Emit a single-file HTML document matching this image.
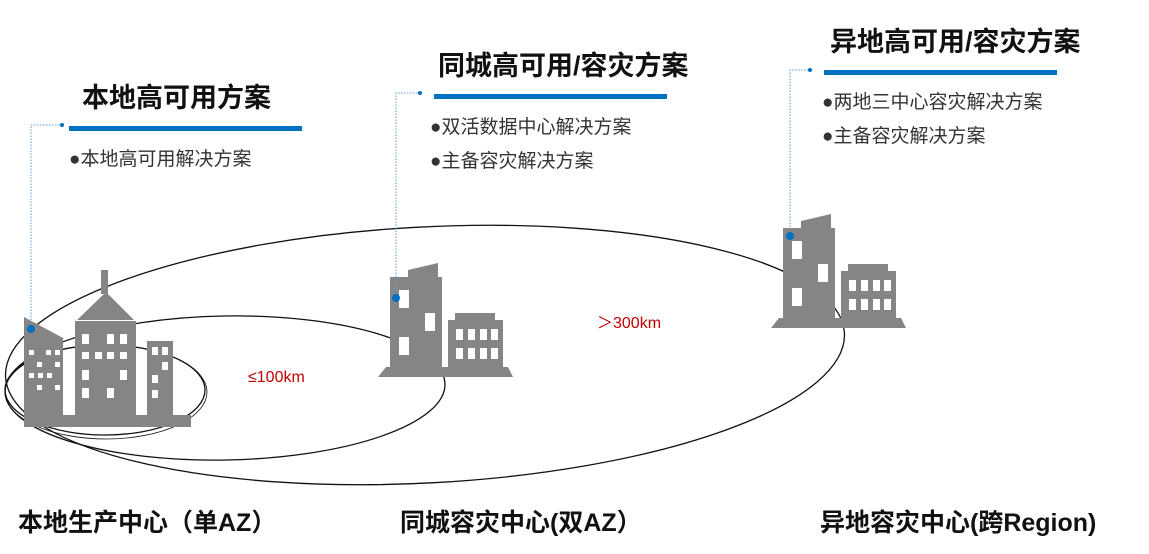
<!DOCTYPE html>
<html><head><meta charset="utf-8"><style>
body{margin:0;width:1149px;height:554px;background:#fff;overflow:hidden;font-family:"Liberation Sans","Noto Sans CJK SC",sans-serif;}
svg{position:absolute;left:0;top:0}
</style></head><body>
<svg width="1149" height="554" viewBox="0 0 1149 554" font-family="Liberation Sans, Noto Sans CJK SC, sans-serif">
<defs>
<g id="b2">
<polygon points="390,277 408,277 408,270 438,263 438,277 442,277 442,367 390,367" fill="#858585"/>
<polygon points="448,320 455,320 455,313 495,313 495,320 503,320 503,367 448,367" fill="#858585"/>
<polygon points="386,367 508,367 513,377 378,377" fill="#858585"/>
<rect x="399" y="290" width="10" height="18" fill="#fff"/>
<rect x="425" y="313" width="10" height="18" fill="#fff"/>
<rect x="399" y="337" width="10" height="18" fill="#fff"/>
<g fill="#fff">
<rect x="456" y="329" width="7" height="11"/><rect x="468" y="329" width="7" height="11"/><rect x="480" y="329" width="7" height="11"/><rect x="491" y="329" width="7" height="11"/>
<rect x="456" y="348" width="7" height="11"/><rect x="468" y="348" width="7" height="11"/><rect x="480" y="348" width="7" height="11"/><rect x="491" y="348" width="7" height="11"/>
</g>
</g>
</defs>
<g fill="none" stroke="#111" stroke-width="1.3">
<ellipse cx="425" cy="355" rx="420" ry="128" transform="rotate(-3 425 355)"/>
<ellipse cx="225" cy="388" rx="220" ry="72" transform="rotate(-1 225 388)"/>
<ellipse cx="105" cy="390" rx="100" ry="45"/>
<ellipse cx="106" cy="392" rx="101" ry="47" stroke-width="0.8"/>
</g>
<polygon points="24,317 63,338 63,415 24,415" fill="#858585"/>
<rect x="75" y="321" width="61" height="94" fill="#858585"/>
<polygon points="77,320 106,292 134,320" fill="#858585"/>
<rect x="101" y="270" width="7" height="24" fill="#858585"/>
<rect x="147" y="341" width="26" height="74" fill="#858585"/>
<rect x="24" y="415" width="167" height="12" fill="#858585"/>
<g fill="#fff">
<rect x="29" y="350" width="5" height="5"/><rect x="46" y="350" width="5" height="5"/><rect x="55" y="350" width="5" height="5"/>
<rect x="37" y="362" width="5" height="5"/><rect x="55" y="362" width="5" height="5"/>
<rect x="29" y="373" width="5" height="5"/><rect x="38" y="373" width="5" height="5"/><rect x="47" y="373" width="5" height="5"/>
<rect x="37" y="385" width="5" height="5"/><rect x="55" y="385" width="5" height="5"/>
<rect x="82" y="334" width="7" height="10"/><rect x="107" y="334" width="7" height="10"/><rect x="120" y="334" width="7" height="10"/>
<rect x="82" y="352" width="7" height="7"/><rect x="95" y="352" width="7" height="7"/><rect x="107" y="352" width="7" height="7"/><rect x="120" y="352" width="7" height="7"/>
<rect x="82" y="370" width="7" height="10"/><rect x="120" y="370" width="7" height="10"/>
<rect x="82" y="388" width="7" height="10"/><rect x="107" y="388" width="7" height="10"/>
<rect x="152" y="347" width="6" height="8"/><rect x="162" y="347" width="6" height="8"/>
<rect x="162" y="362" width="6" height="8"/><rect x="152" y="375" width="6" height="8"/><rect x="152" y="390" width="6" height="8"/>
</g>
<use href="#b2"/>
<use href="#b2" transform="translate(393,-49)"/>
<g stroke="#5b9bd5" stroke-width="1" fill="none" stroke-dasharray="1.5 1.5">
<polyline points="31,329 31,125 62,125"/>
<polyline points="396,298 396,93 420,93"/>
<polyline points="790,236 790,70 810,70"/>
</g>
<g fill="#0070c0">
<circle cx="31" cy="329" r="4"/><circle cx="396" cy="298" r="4"/><circle cx="790" cy="236" r="4"/>
<circle cx="62" cy="125" r="2"/><circle cx="420" cy="93" r="2"/><circle cx="810" cy="70" r="2"/>
<rect x="69" y="126" width="233" height="5"/>
<rect x="434" y="94" width="233" height="5"/>
<rect x="824" y="70" width="233" height="5"/>
</g>
<g font-weight="bold" font-size="27" fill="#111">
<text x="82" y="107">本地高可用方案</text>
<text x="438" y="75">同城高可用/容灾方案</text>
<text x="830" y="51">异地高可用/容灾方案</text>
</g>
<g font-size="19" fill="#333">
<text x="69" y="165">●本地高可用解决方案</text>
<text x="430" y="133">●双活数据中心解决方案</text>
<text x="430" y="167">●主备容灾解决方案</text>
<text x="822" y="108">●两地三中心容灾解决方案</text>
<text x="822" y="142">●主备容灾解决方案</text>
</g>
<g font-size="16" fill="#c00000">
<text x="248" y="382">≤100km</text>
<text x="597" y="328">＞300km</text>
</g>
<g font-weight="bold" font-size="25" fill="#111">
<text x="18" y="531">本地生产中心（单AZ）</text>
<text x="400" y="531">同城容灾中心(双AZ）</text>
<text x="820" y="531">异地容灾中心(跨Region)</text>
</g>
</svg>
</body></html>
